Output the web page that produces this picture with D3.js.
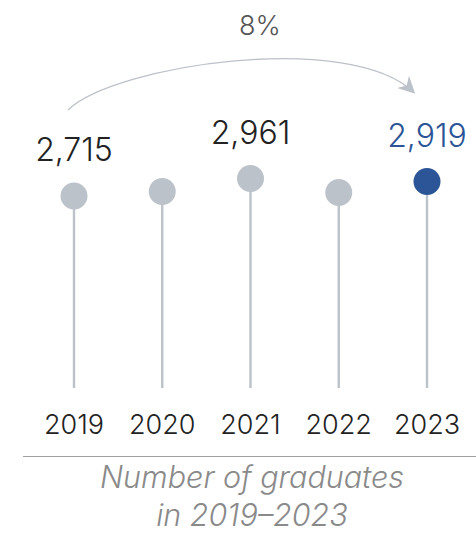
<!DOCTYPE html>
<html>
<head>
<meta charset="utf-8">
<script src="https://cdn.jsdelivr.net/npm/d3@7"></script>
<style>
  html, body { margin: 0; padding: 0; background: #fff; }
  svg { display: block; font-family: Inter, "Noto Sans", sans-serif; }
</style>
</head>
<body>
<svg id="chart" width="476" height="533"></svg>
<script>
// data
const years = ["2019", "2020", "2021", "2022", "2023"];
const graduates = [2715, 2778, 2961, 2764, 2919];
const showLabel = [true, false, true, false, true];
const growthLabel = "8%";
const captionLines = ["Number of graduates", "in 2019\u20132023"];

const WIDTH = 476;
const BASE_Y = 388; // where the stems stop

const GREY = "#bcc2ca";
const BLUE = "#2b5596";

const svg = d3.select("#chart");

const x = d3.scalePoint()
    .domain(years)
    .range([74, 427]);

const y = d3.scaleLinear()
    .domain([0, 3000])
    .range([BASE_Y, BASE_Y - 212.2]);

const last = years.length - 1;
const colorOf = i => i === last ? BLUE : GREY;

// stems (all grey, only the last head is blue)
svg.selectAll(".stem")
    .data(years)
    .join("line")
    .attr("class", "stem")
    .attr("x1", d => x(d)).attr("x2", d => x(d))
    .attr("y1", (d, i) => y(graduates[i]))
    .attr("y2", BASE_Y)
    .attr("stroke", GREY)
    .attr("stroke-width", 2.4);

// heads
svg.selectAll(".head")
    .data(years)
    .join("circle")
    .attr("class", "head")
    .attr("cx", d => x(d))
    .attr("cy", (d, i) => y(graduates[i]))
    .attr("r", 13.5)
    .attr("fill", (d, i) => colorOf(i));

// value labels (only some are printed)
const fmt = d3.format(",");
svg.selectAll(".val")
    .data(years.filter((d, i) => showLabel[i]))
    .join("text")
    .attr("class", "val")
    .attr("x", d => x(d))
    .attr("y", d => y(graduates[years.indexOf(d)]) - 34.5)
    .attr("text-anchor", "middle")
    .attr("font-size", 32)
    .attr("font-weight", 300)
    .attr("fill", d => years.indexOf(d) === last ? BLUE : "#222")
    .text(d => fmt(graduates[years.indexOf(d)]));

// year axis labels
svg.selectAll(".year")
    .data(years)
    .join("text")
    .attr("class", "year")
    .attr("x", d => x(d))
    .attr("y", 434)
    .attr("text-anchor", "middle")
    .attr("font-size", 27)
    .attr("font-weight", 300)
    .attr("fill", "#222")
    .text(d => d);

// growth arrow from first to last
svg.append("defs").append("marker")
    .attr("id", "arrowhead")
    .attr("viewBox", "0 0 10 10")
    .attr("refX", 9).attr("refY", 5)
    .attr("markerWidth", 17).attr("markerHeight", 17)
    .attr("markerUnits", "userSpaceOnUse")
    .attr("orient", "auto")
    .append("path")
    .attr("d", "M0,0 L10,5 L0,10 L3,5 Z")
    .attr("fill", GREY);

const x0 = x(years[0]) - 6, y0 = y(graduates[0]) - 86;
const x1 = x(years[last]) - 13, y1 = y(graduates[last]) - 89;
const arc = d3.path();
arc.moveTo(x0, y0);
arc.bezierCurveTo(115, 65, 350, 30, x1, y1);
svg.append("path")
    .attr("d", arc.toString())
    .attr("fill", "none")
    .attr("stroke", GREY)
    .attr("stroke-width", 1.3)
    .attr("marker-end", "url(#arrowhead)");

svg.append("text")
    .attr("x", 260)
    .attr("y", 35)
    .attr("text-anchor", "middle")
    .attr("font-size", 27)
    .attr("font-weight", 300)
    .attr("fill", "#555")
    .text(growthLabel);

// divider + caption
svg.append("line")
    .attr("x1", 23).attr("x2", WIDTH)
    .attr("y1", 456.5).attr("y2", 456.5)
    .attr("stroke", "#a0a0a0")
    .attr("stroke-width", 1);

svg.selectAll(".caption")
    .data(captionLines)
    .join("text")
    .attr("class", "caption")
    .attr("x", 252)
    .attr("y", (d, i) => 488 + i * 37.5)
    .attr("text-anchor", "middle")
    .attr("font-size", 30.5)
    .attr("font-style", "italic")
    .attr("font-weight", 300)
    .attr("fill", "#8a8a8a")
    .text(d => d);
</script>
</body>
</html>
